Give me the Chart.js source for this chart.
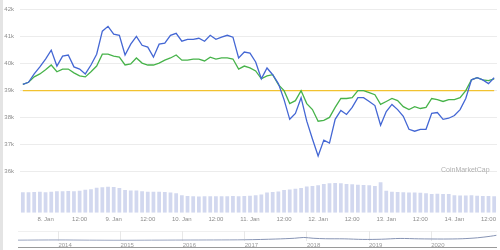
<!DOCTYPE html>
<html>
<head>
<meta charset="UTF-8" />
<title>Price chart</title>
<script src="https://cdn.jsdelivr.net/npm/chart.js"></script>
<style>
  body {
    margin: 0;
    background: #fff;
    width: 500px;
    height: 250px;
    position: relative;
    overflow: hidden;
    font-family: 'Liberation Sans', Arial, sans-serif;
  }
  #edge { position: absolute; left: 0; top: 0; width: 3px; height: 250px; background: #e4e4e4; }
  #mainChart { position: absolute; left: 0; top: 0; }
  #navChart { position: absolute; left: 0; top: 226px; }
  #navTop { position: absolute; left: 18px; top: 231px; width: 479px; height: 1px; background: #f0f0f0; }
  #navBottom { position: absolute; left: 18px; top: 247px; width: 479px; height: 1px; background: #9a9a9a; }
  #mark { position: absolute; left: 441px; top: 166px; font-size: 7px; color: #b0b0b0; }
</style>
</head>
<body>
<div id="edge"></div>
<canvas id="mainChart" width="500" height="229"></canvas>
<div id="navTop"></div>
<canvas id="navChart" width="500" height="24"></canvas>
<div id="navBottom"></div>
<div id="mark">CoinMarketCap</div>

<script>
// 2-hourly points, first one at 7 Jan 16:00
const firstHour = 16;
const dayLabels = ['8. Jan', '9. Jan', '10. Jan', '11. Jan', '12. Jan', '13. Jan', '14. Jan'];

const bluePrice = [
  39230, 39310, 39620, 39880, 40170, 40500, 39910, 40280, 40320, 39880,
  39800, 39620, 39950, 40350, 41200, 41380, 41090, 41050, 40320, 40720,
  41010, 40680, 40610, 40240, 40720, 40760, 41050, 41120, 40830, 40900,
  40900, 40940, 40830, 41050, 40900, 40980, 41050, 40980, 40210, 40430,
  40390, 40060, 39440, 39840, 39590, 39260, 38670, 37940, 38160, 38740,
  37870, 37210, 36580, 37170, 37060, 37940, 38270, 38120, 38380, 38740,
  38740, 38600, 38450, 37720, 38230, 38490, 38300, 38050, 37570, 37500,
  37570, 37570, 38160, 38190, 37940, 37980, 38080, 38300, 38710, 39400,
  39480, 39400, 39260, 39480
];

const greenPrice = [
  39230, 39310, 39510, 39620, 39770, 39950, 39700, 39800, 39800, 39660,
  39550, 39510, 39700, 39910, 40350, 40350, 40280, 40240, 39950, 39990,
  40210, 40020, 39950, 39950, 40020, 40130, 40210, 40320, 40130, 40130,
  40170, 40170, 40100, 40240, 40170, 40210, 40210, 40170, 39800, 39910,
  39840, 39730, 39440, 39550, 39590, 39220, 39000, 38520, 38630, 39000,
  38520, 38300, 37870, 37900, 38010, 38380, 38710, 38710, 38740, 39000,
  39000, 38930, 38850, 38490, 38600, 38710, 38630, 38410, 38300, 38410,
  38340, 38380, 38710, 38670, 38600, 38670, 38670, 38740, 39000, 39400,
  39480, 39400, 39370, 39440
];

const baseline = 39000;

// volume, billions
const volume = [
  10.1, 10.1, 10.2, 10.3, 10.1, 10.4, 10.6, 10.6, 10.7, 10.6,
  10.9, 11.3, 11.6, 12.3, 12.6, 12.8, 12.7, 12.2, 11.2, 11.0,
  11.0, 10.6, 10.4, 10.3, 10.3, 10.2, 10.0, 9.6, 8.6, 8.3,
  8.1, 8.0, 8.1, 8.1, 8.2, 8.2, 8.2, 8.3, 8.2, 8.3,
  8.4, 8.6, 9.0, 10.0, 10.2, 10.5, 11.2, 11.5, 11.8, 12.2,
  13.0, 13.2, 13.6, 14.2, 14.6, 14.7, 14.5, 14.2, 14.0, 13.8,
  13.7, 13.5, 13.2, 15.0, 10.8, 10.3, 10.2, 10.1, 10.0, 10.0,
  9.9, 9.6, 9.3, 9.4, 9.3, 9.2, 8.6, 8.5, 8.5, 8.6,
  8.4, 8.3, 8.3, 8.2
];

const yTicks = [36000, 37000, 38000, 39000, 40000, 41000, 42000];

// navigator (whole history)
const navYears = [2013.35, 2014.0, 2014.5, 2015.0, 2015.5, 2016.0, 2016.5, 2017.0, 2017.5, 2017.8,
  2017.95, 2018.1, 2018.3, 2018.6, 2018.9, 2019.2, 2019.5, 2019.8, 2020.2, 2020.5, 2020.75, 2020.95, 2021.05];
const navValues = [6, 8, 6, 5, 6, 7, 8, 10, 18, 26,
  34, 26, 21, 20, 14, 16, 24, 20, 18, 21, 31, 46, 56];
const navTicks = [2014, 2015, 2016, 2017, 2018, 2019, 2020];

const categories = bluePrice.map((_, i) => i);

function xLabel(i) {
  const h = firstHour + 2 * i;
  if (h % 24 === 0) return dayLabels[h / 24 - 1];
  if (h % 24 === 12) return '12:00';
  return null;
}

const tickFont = { family: "'Liberation Sans', Arial, sans-serif", size: 6 };

new Chart(document.getElementById('mainChart').getContext('2d'), {
  type: 'line',
  data: {
    labels: categories,
    datasets: [
      { data: bluePrice, borderColor: '#4467d4', borderWidth: 1.3, pointRadius: 0, tension: 0 },
      { data: greenPrice, borderColor: '#47b34a', borderWidth: 1.3, pointRadius: 0, tension: 0 },
      { data: bluePrice.map(() => baseline), borderColor: '#f2c230', borderWidth: 1.2, pointRadius: 0 },
      { type: 'bar', data: volume, yAxisID: 'y2', backgroundColor: '#d2d8ef',
        barPercentage: 1, categoryPercentage: 0.66 }
    ]
  },
  options: {
    responsive: false,
    animation: false,
    layout: { padding: { top: 4, right: 3, bottom: 3, left: 0 } },
    plugins: { legend: { display: false }, tooltip: { enabled: false } },
    scales: {
      x: {
        offset: true,
        grid: { display: false, drawTicks: false },
        border: { display: false },
        ticks: { autoSkip: false, maxRotation: 0, font: tickFont, color: '#8c8c8c', padding: 3,
          callback: (v, i) => xLabel(i) }
      },
      y: {
        min: 34480,
        max: 42000,
        afterBuildTicks: axis => { axis.ticks = yTicks.map(v => ({ value: v })); },
        afterFit: axis => { axis.width = 20; },
        ticks: { font: tickFont, color: '#8c8c8c', padding: 6, callback: v => (v / 1000) + 'k' },
        grid: { color: '#ececec', drawTicks: false },
        border: { display: false }
      },
      y2: { display: false, min: 0, max: 100 }
    }
  }
});

new Chart(document.getElementById('navChart').getContext('2d'), {
  type: 'line',
  data: {
    datasets: [{
      data: navYears.map((x, i) => ({ x: x, y: navValues[i] })),
      borderColor: '#8794b4', borderWidth: 1, pointRadius: 0, tension: 0.3
    }]
  },
  options: {
    responsive: false,
    animation: false,
    layout: { padding: { top: 5, right: 3, bottom: 0, left: 18 } },
    plugins: { legend: { display: false }, tooltip: { enabled: false } },
    scales: {
      x: {
        type: 'linear',
        min: 2013.35,
        max: 2021.06,
        afterBuildTicks: axis => { axis.ticks = navTicks.map(v => ({ value: v })); },
        ticks: { align: 'start', font: tickFont, color: '#999', padding: 1, maxRotation: 0,
          callback: v => String(v) },
        grid: { color: '#e8e8e8', drawTicks: false },
        border: { display: false }
      },
      y: { display: false, min: 0, max: 100 }
    }
  }
});
</script>
</body>
</html>
